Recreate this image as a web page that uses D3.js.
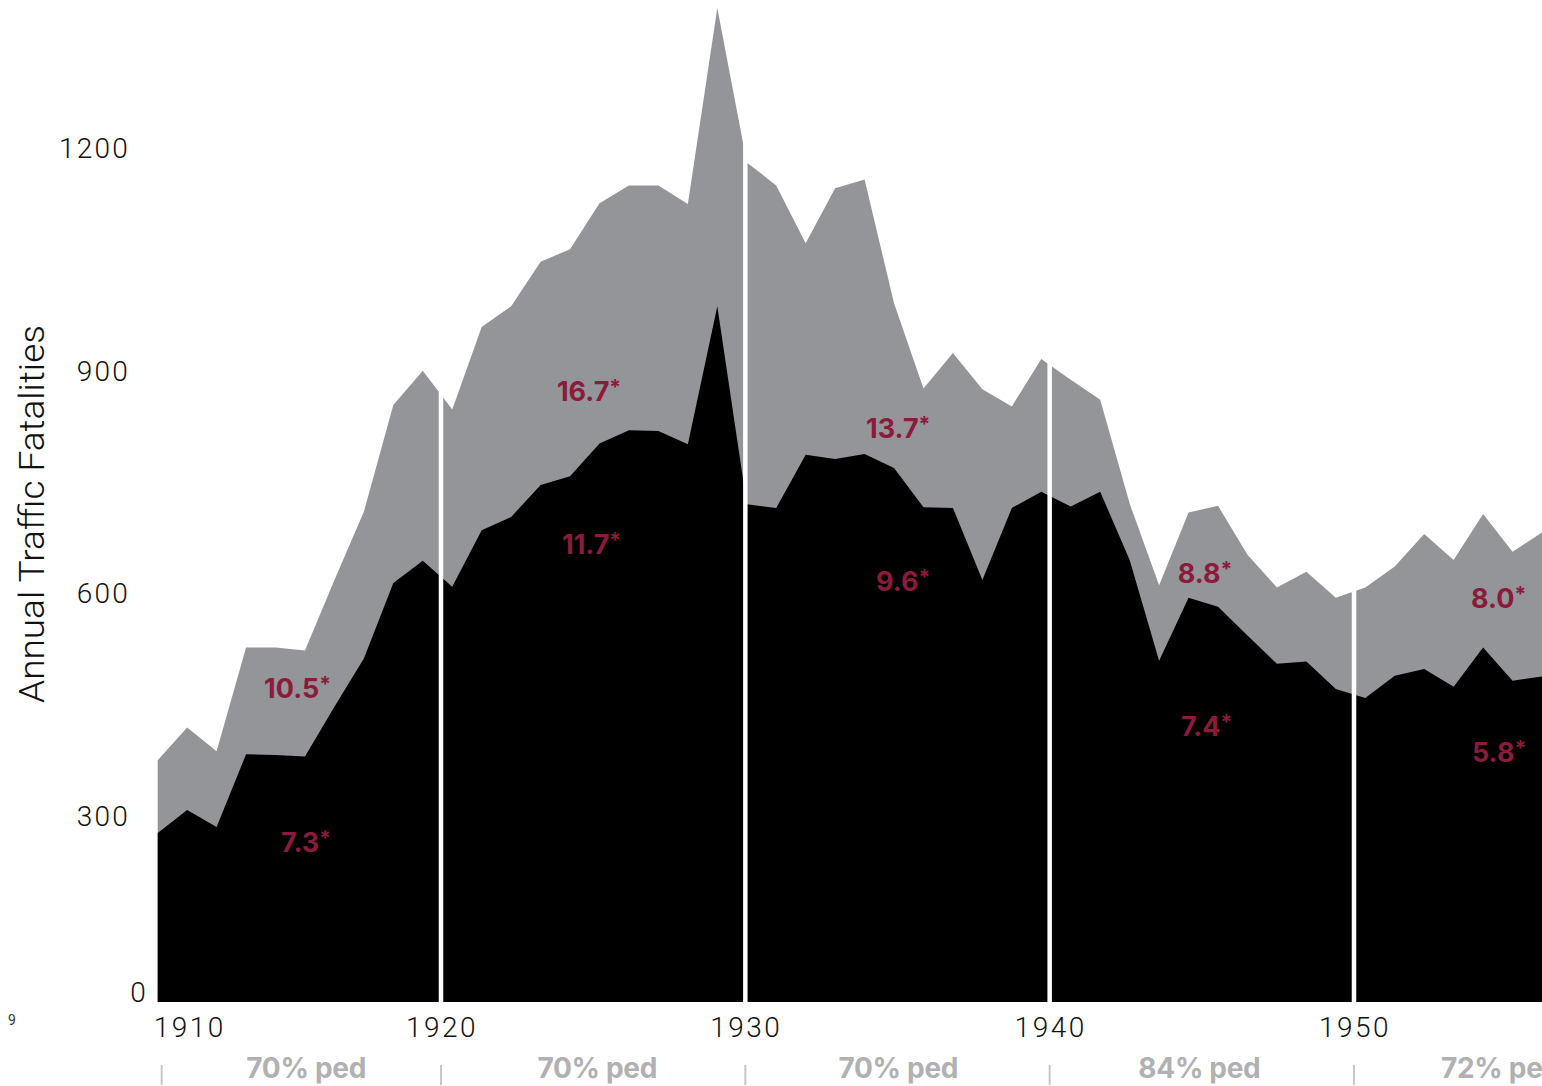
<!DOCTYPE html>
<html><head><meta charset="utf-8">
<script src="https://cdn.jsdelivr.net/npm/d3@7"></script>
<style>body{margin:0;background:#fff}svg{display:block}</style>
</head><body><svg id="c" width="1542" height="1086"></svg>
<script>
// ---- data ----
const years = [1910,1911,1912,1913,1914,1915,1916,1917,1918,1919,
               1920,1921,1922,1923,1924,1925,1926,1927,1928,1929,
               1930,1931,1932,1933,1934,1935,1936,1937,1938,1939,
               1940,1941,1942,1943,1944,1945,1946,1947,1948,1949,
               1950,1951,1952,1953,1954,1955,1956,1957];
// total annual traffic fatalities (grey)
const totalDeaths = [326,370,338,478,478,474,569,661,805,851,
                     799,910,938,998,1015,1077,1101,1101,1076,1340,
                     1132,1101,1023,1097,1109,942,827,875,826,803,
                     867,839,812,672,562,660,669,603,559,580,
                     545,559,587,631,596,658,607,633];
// pedestrian fatalities (black)
const pedDeaths = [228,259,236,334,333,331,398,463,565,595,
                   560,636,654,697,709,753,771,770,752,938,
                   671,666,738,732,739,720,667,666,569,666,
                   688,668,688,596,460,545,533,494,456,459,
                   422,410,440,449,425,478,433,439];
const decades = [1910,1920,1930,1940,1950];
const totalRateLabels = ["10.5","16.7","13.7","8.8","8.0"];
const pedRateLabels = ["7.3","11.7","9.6","7.4","5.8"];
const pedShareLabels = ["70% ped","70% ped","70% ped","84% ped","72% ped"];
const yTickValues = [0,300,600,900,1200];
const yTitle = "Annual Traffic Fatalities";

// ---- layout (annotation anchors in data space) ----
const rateLabelYear = [1915.85,1925.7,1936.2,1946.45,1956.43];
const totalLabelAt = [423,824,774,578,545];
const pedLabelAt = [216,617,568,372,337];

const svg = d3.select('#c');
const x = d3.scaleLinear().domain([1910,1957]).range([157.7,1542]);
const y = d3.scaleLinear().domain([0,1400]).range([1002, 1002-1400*0.7417]);
const xd = d3.scaleLinear().domain([1920,1950]).range([441,1354]);

const mkArea = arr => d3.area()
  .x((d,i)=>x(years[i])).y0(y(0)).y1(d=>y(d))(arr);

svg.append('path').attr('d', mkArea(totalDeaths)).attr('fill','#939598');
svg.append('path').attr('d', mkArea(pedDeaths)).attr('fill','#000');

// decade dividers
svg.selectAll('line.div').data(decades.slice(1)).join('line')
  .attr('x1',d=>xd(d)).attr('x2',d=>xd(d))
  .attr('y1',y(1400)).attr('y2',y(0))
  .attr('stroke','#fff').attr('stroke-width',4.5);

// rate labels
const red = '#8b1a3b';
const lab = svg.append('g').attr('font-family','Inter, Roboto, sans-serif')
  .attr('font-weight',700).attr('font-size',27).attr('fill',red)
  .attr('text-anchor','end').attr('dominant-baseline','central');
function rateText(xp, yp, txt){
  const t = lab.append('text').attr('x',xp).attr('y',yp);
  t.append('tspan').text(txt);
  t.append('tspan').attr('font-size',21).attr('dy',-4).text('*');
}
decades.forEach((d,i)=>{
  rateText(x(rateLabelYear[i])+1, y(totalLabelAt[i]), totalRateLabels[i]);
  rateText(x(rateLabelYear[i])+1, y(pedLabelAt[i]), pedRateLabels[i]);
});

// y tick labels
svg.append('g').selectAll('text').data(yTickValues).join('text')
  .attr('x',d=> d===0 ? 148 : 130).attr('y',d=> d===0 ? y(0)-10 : y(d)+37)
  .attr('text-anchor','end').attr('dominant-baseline','central')
  .attr('font-family','Roboto, sans-serif').attr('font-weight',300)
  .attr('font-size',28).attr('letter-spacing',2.2).attr('fill','#111')
  .text(d=>d);

// y title
svg.append('text')
  .attr('transform',`translate(44,514) rotate(-90)`)
  .attr('text-anchor','middle')
  .attr('font-family','Roboto, sans-serif').attr('font-weight',300)
  .attr('font-size',35).attr('fill','#111')
  .attr('textLength',378).attr('lengthAdjust','spacingAndGlyphs')
  .text(yTitle);

// x labels
const tickX = d => d===decades[0] ? x(d)+4 : xd(d);
svg.append('g').selectAll('text').data(decades).join('text')
  .attr('x',d=> d===decades[0] ? x(d)-4 : xd(d)+1)
  .attr('y',1027)
  .attr('text-anchor',d=> d===decades[0] ? 'start':'middle')
  .attr('dominant-baseline','central')
  .attr('font-family','Roboto, sans-serif').attr('font-weight',300)
  .attr('font-size',28).attr('letter-spacing',2.5).attr('fill','#111')
  .text(d=>d);

// bottom ticks
svg.append('g').selectAll('line').data(decades).join('line')
  .attr('x1',tickX).attr('x2',tickX).attr('y1',1065).attr('y2',1085)
  .attr('stroke','#c8c8c8').attr('stroke-width',2);

// ped share labels
const segMid = (d,i) => (tickX(d) + (i<decades.length-1 ? tickX(decades[i+1]) : xd(d+10)))/2;
svg.append('g').selectAll('text').data(decades).join('text')
  .attr('x',(d,i)=> i===0 ? (segMid(d,i) + x(d+5))/2 + 3 : (segMid(d,i)*2 + x(d+5))/3 + 2)
  .attr('y',1068).attr('text-anchor','middle').attr('dominant-baseline','central')
  .attr('font-family','Inter, Roboto, sans-serif').attr('font-weight',700)
  .attr('font-size',28).attr('letter-spacing',-0.3).attr('fill','#b1b1b3')
  .text((d,i)=>pedShareLabels[i]);

// stray footnote marker
svg.append('text').attr('x',12).attr('y',1020).attr('text-anchor','middle')
  .attr('dominant-baseline','central').attr('font-family','Roboto, sans-serif')
  .attr('font-size',14).attr('fill','#333').text('9');
</script></body></html>
